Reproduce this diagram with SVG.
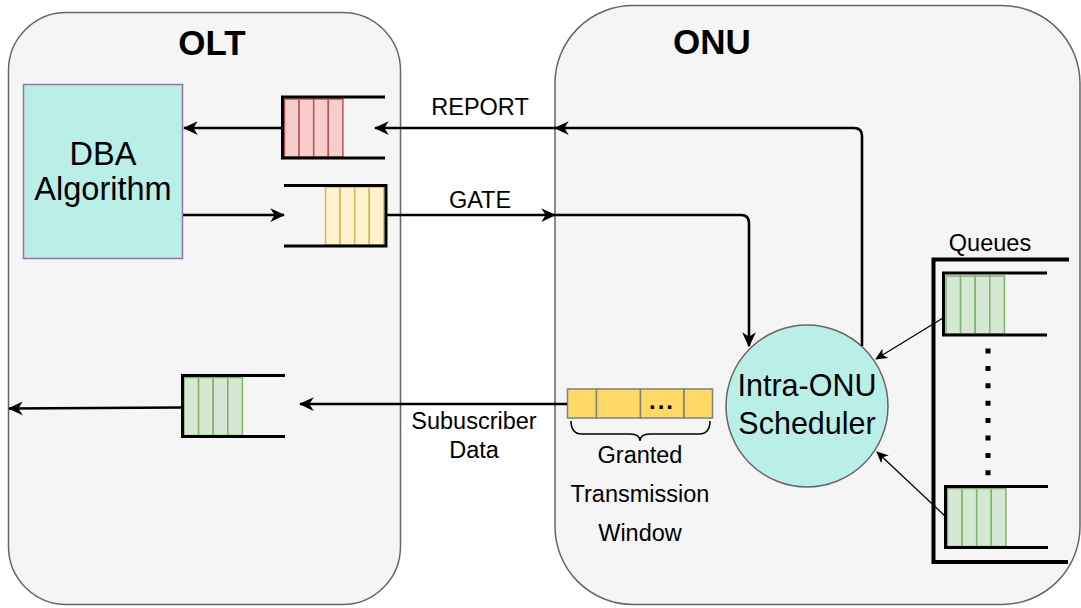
<svg xmlns="http://www.w3.org/2000/svg" width="1081" height="608" viewBox="0 0 1081 608">
  <style>
    .box { fill: #f5f5f5; stroke: #666666; stroke-width: 1.5; }
    .title { font-family: "Liberation Sans", Arial, sans-serif; font-weight: bold; font-size: 35px; text-anchor: middle; fill: #000; }
    .lbl { font-family: "Liberation Sans", Arial, sans-serif; font-size: 23.5px; text-anchor: middle; fill: #000; }
    .big { font-family: "Liberation Sans", Arial, sans-serif; font-size: 32.5px; text-anchor: middle; fill: #000; }
    .sched { font-family: "Liberation Sans", Arial, sans-serif; font-size: 30.5px; text-anchor: middle; fill: #000; }
    .qline { fill: none; stroke: #000; stroke-width: 3; }
    .red { fill: #f8cecc; stroke: #b85450; stroke-width: 1.5; }
    .yel { fill: #fff2cc; stroke: #d6b656; stroke-width: 1.5; }
    .grn { fill: #d5e8d4; stroke: #82b366; stroke-width: 1.5; }
    .win { fill: #ffd966; stroke: #808080; stroke-width: 1.5; }
    .edge { fill: none; stroke: #000; stroke-width: 2.6; marker-end: url(#arrow); }
    .thin { fill: none; stroke: #000; stroke-width: 1.3; marker-end: url(#arrowSmall); }
  </style>
  <defs>
    <marker id="arrow" viewBox="0 0 12 12" refX="11" refY="6" markerWidth="15" markerHeight="15" markerUnits="userSpaceOnUse" orient="auto">
      <path d="M0,0.5 L12,6 L0,11.5 L3.5,6 Z" fill="#000"/>
    </marker>
    <marker id="arrowSmall" viewBox="0 0 12 12" refX="11" refY="6" markerWidth="12" markerHeight="12" markerUnits="userSpaceOnUse" orient="auto">
      <path d="M0,0.5 L12,6 L0,11.5 L3.5,6 Z" fill="#000"/>
    </marker>
    <!-- four-slot packet queue body -->
    <g id="cellsRight">
      <rect x="0" y="0" width="14.6" height="58"/>
      <rect x="14.6" y="0" width="14.6" height="58"/>
      <rect x="29.2" y="0" width="14.6" height="58"/>
      <rect x="43.8" y="0" width="14.6" height="58"/>
    </g>
  </defs>

  <!-- OLT container -->
  <g id="olt">
    <rect class="box" x="8.5" y="12.5" width="392" height="592" rx="58" ry="58"/>
    <text class="title" x="212" y="55">OLT</text>
  </g>

  <!-- ONU container -->
  <g id="onu">
    <rect class="box" x="555" y="5.5" width="525" height="599" rx="78" ry="78"/>
    <text class="title" x="712" y="54">ONU</text>
  </g>

  <!-- DBA algorithm block -->
  <g id="dba">
    <rect x="23.5" y="84.5" width="159" height="174" fill="#b9efe6" stroke="#9673a6" stroke-width="1.5"/>
    <text class="big" x="103" y="165">DBA</text>
    <text class="big" x="103" y="200">Algorithm</text>
  </g>

  <!-- OLT report queue -->
  <g id="report-queue">
    <g class="red" transform="translate(284.5,99)"><use href="#cellsRight"/></g>
    <path class="qline" d="M385,97 L282.5,97 L282.5,158 L385,158"/>
  </g>

  <!-- OLT gate queue -->
  <g id="gate-queue">
    <g class="yel" transform="translate(325.5,187)"><use href="#cellsRight"/></g>
    <path class="qline" d="M284,185.5 L386,185.5 L386,246 L284,246"/>
  </g>

  <!-- OLT upstream data queue -->
  <g id="data-queue">
    <g class="grn" transform="translate(184,377.5)"><use href="#cellsRight"/></g>
    <path class="qline" d="M285,375.5 L182.5,375.5 L182.5,436.5 L285,436.5"/>
  </g>

  <!-- granted transmission window -->
  <g id="granted-window">
    <rect class="win" x="567.5" y="389" width="29" height="29"/>
    <rect class="win" x="596.5" y="389" width="44" height="29"/>
    <rect class="win" x="640.5" y="389" width="43.5" height="29"/>
    <rect class="win" x="684" y="389" width="28.5" height="29"/>
    <text x="662" y="409" font-family="Liberation Sans, Arial, sans-serif" font-weight="bold" font-size="24" letter-spacing="2" text-anchor="middle">...</text>
    <path d="M571,421 Q571,434 582,434 L630,434 Q640,434 640,441 Q640,434 650,434 L699,434 Q710,434 710,421" fill="none" stroke="#000" stroke-width="1.5"/>
    <text class="lbl" x="640" y="463">Granted</text>
    <text class="lbl" x="640" y="502">Transmission</text>
    <text class="lbl" x="640" y="541">Window</text>
  </g>

  <!-- Intra-ONU scheduler -->
  <g id="scheduler">
    <circle cx="807" cy="406" r="81" fill="#b9efe6" stroke="#666666" stroke-width="1.5"/>
    <text class="sched" x="807" y="396">Intra-ONU</text>
    <text class="sched" x="807" y="434">Scheduler</text>
  </g>

  <!-- ONU subscriber queues -->
  <g id="queues">
    <path d="M1069,259.5 L933.5,259.5 L933.5,562 L1068,562" fill="none" stroke="#000" stroke-width="4"/>
    <g class="grn" transform="translate(946,276)"><use href="#cellsRight"/></g>
    <path class="qline" d="M1047,273 L943.5,273 L943.5,335 L1047,335"/>
    <g class="grn" transform="translate(947.5,488.5)"><use href="#cellsRight"/></g>
    <path class="qline" d="M1048,486.5 L945.5,486.5 L945.5,547.5 L1048,547.5"/>
    <line x1="988" y1="348.5" x2="988" y2="476" stroke="#000" stroke-width="5" stroke-dasharray="5 12.4"/>
    <text class="lbl" x="990" y="251">Queues</text>
  </g>

  <!-- connectors -->
  <g id="connectors">
    <path class="edge" d="M282,128 L184,128"/>
    <path class="edge" d="M183,215 L284,215"/>
    <path class="edge" d="M862,346 L862,136 Q862,128 854,128 L555,128"/>
    <path class="edge" d="M555,128 L375,128"/>
    <path class="edge" d="M386,215 L555,215"/>
    <path class="edge" d="M555,215 L741,215 Q749,215 749,223 L749,346"/>
    <path class="edge" d="M567,404 L300,404"/>
    <path class="edge" d="M182,407.5 L9,408.5"/>
    <path class="thin" d="M943,318 L876,359"/>
    <path class="thin" d="M945,516 L877,452"/>
    <text class="lbl" x="480" y="115">REPORT</text>
    <text class="lbl" x="480" y="208">GATE</text>
    <text class="lbl" x="474" y="429">Subuscriber</text>
    <text class="lbl" x="474" y="458">Data</text>
  </g>
</svg>
